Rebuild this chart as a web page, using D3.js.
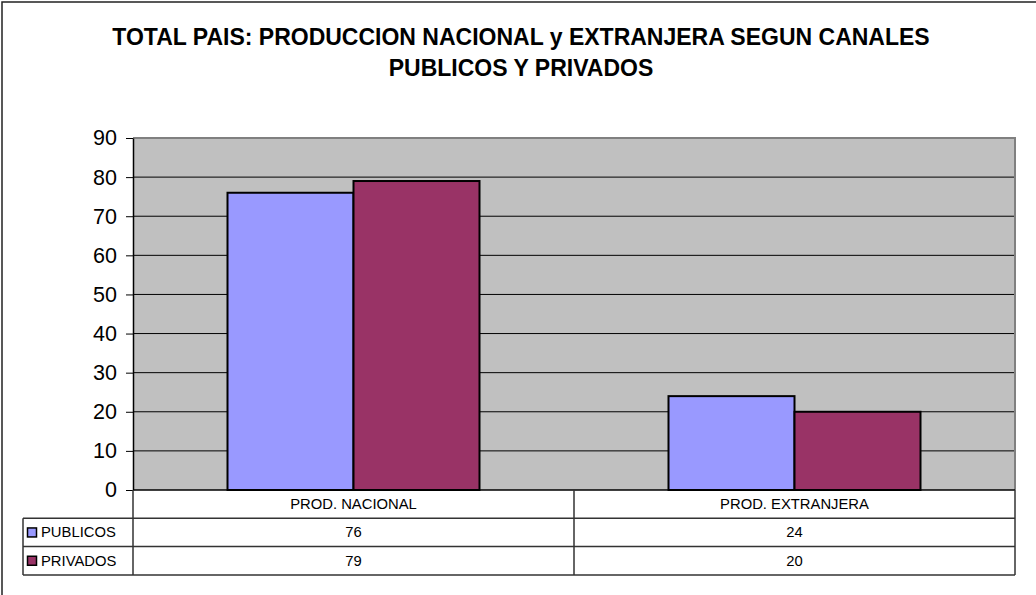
<!DOCTYPE html>
<html>
<head>
<meta charset="utf-8">
<script src="https://cdn.jsdelivr.net/npm/d3@7"></script>
<style>
  body { margin: 0; background: #fff; }
  svg { display: block; font-family: Arial, "Liberation Sans", sans-serif; }
</style>
</head>
<body>
<svg id="chart" width="1036" height="595"></svg>
<script>
const categories = ['PROD. NACIONAL', 'PROD. EXTRANJERA'];
const seriesNames = ['PUBLICOS', 'PRIVADOS'];
const publicos = [76, 24];
const privados = [79, 20];
const yTicks = [0, 10, 20, 30, 40, 50, 60, 70, 80, 90];
const colors = ['#9999FF', '#993366'];

const svg = d3.select('#chart');
const plot = { left: 133, right: 1015, top: 138, bottom: 490 };
const rowH = 28.3;

// outer frame (right/bottom edges fall outside the picture)
svg.append('rect')
  .attr('x', 2).attr('y', 2).attr('width', 1060).attr('height', 620)
  .attr('fill', 'none').attr('stroke', '#222').attr('stroke-width', 1.5);

// title
const title = svg.append('text')
  .attr('text-anchor', 'middle')
  .attr('font-weight', 'bold')
  .attr('font-size', 23)
  .attr('fill', '#000');
title.append('tspan').attr('x', 521).attr('y', 45)
  .text('TOTAL PAIS: PRODUCCION NACIONAL y EXTRANJERA SEGUN CANALES');
title.append('tspan').attr('x', 521).attr('y', 76)
  .text('PUBLICOS Y PRIVADOS');

const x0 = d3.scaleBand().domain(categories).range([plot.left, plot.right]);
const bw = x0.bandwidth() / 3.5;
const x1 = d3.scaleBand().domain(seriesNames).range([0.75 * bw, x0.bandwidth() - 0.75 * bw]);
const y = d3.scaleLinear().domain([0, 90]).range([plot.bottom, plot.top]);

// plot background
svg.append('rect')
  .attr('x', plot.left).attr('y', plot.top)
  .attr('width', plot.right - plot.left).attr('height', plot.bottom - plot.top)
  .attr('fill', '#C0C0C0');

// gridlines
svg.append('g').selectAll('line')
  .data(yTicks.filter(d => d > 0 && d < 90))
  .join('line')
  .attr('x1', plot.left).attr('x2', plot.right)
  .attr('y1', d => y(d)).attr('y2', d => y(d))
  .attr('stroke', '#000').attr('stroke-width', 1);

// top and right plot border
svg.append('path')
  .attr('d', `M${plot.left},${plot.top}H${plot.right}V${plot.bottom}`)
  .attr('fill', 'none').attr('stroke', '#808080').attr('stroke-width', 2);

// bars
const data = categories.map((c, i) => ({ cat: c, values: [publicos[i], privados[i]] }));
svg.append('g').selectAll('g')
  .data(data)
  .join('g')
  .attr('transform', d => `translate(${x0(d.cat)},0)`)
  .selectAll('rect')
  .data(d => d.values.map((v, j) => ({ name: seriesNames[j], value: v, color: colors[j] })))
  .join('rect')
  .attr('x', d => x1(d.name))
  .attr('width', x1.bandwidth())
  .attr('y', d => y(d.value))
  .attr('height', d => y(0) - y(d.value))
  .attr('fill', d => d.color)
  .attr('stroke', '#000').attr('stroke-width', 2);

// y axis
const yAxis = svg.append('g')
  .attr('transform', `translate(${plot.left},0)`)
  .call(d3.axisLeft(y).tickValues(yTicks).tickSize(7).tickPadding(9).tickSizeOuter(0));
yAxis.select('.domain').attr('stroke', '#000').attr('stroke-width', 1.5);
yAxis.selectAll('.tick line').attr('stroke', '#000');
yAxis.selectAll('.tick text')
  .attr('font-size', 21.5).attr('fill', '#000')
  .attr('font-family', 'Arial, "Liberation Sans", sans-serif');

// data table
const table = svg.append('g');
const tLeft = 23;
const rows = [plot.bottom, plot.bottom + rowH, plot.bottom + 2 * rowH, plot.bottom + 3 * rowH];
const lineColor = '#333';

// horizontal lines
table.append('line')
  .attr('x1', plot.left).attr('x2', plot.right)
  .attr('y1', rows[0]).attr('y2', rows[0])
  .attr('stroke', '#000').attr('stroke-width', 1.5);
rows.slice(1).forEach(r => {
  table.append('line')
    .attr('x1', tLeft).attr('x2', plot.right)
    .attr('y1', r).attr('y2', r)
    .attr('stroke', lineColor).attr('stroke-width', 1.5);
});
// vertical lines
[plot.left, x0(categories[1]), plot.right].forEach(vx => {
  table.append('line')
    .attr('x1', vx).attr('x2', vx)
    .attr('y1', rows[0]).attr('y2', rows[3])
    .attr('stroke', lineColor).attr('stroke-width', 1.5);
});
table.append('line')
  .attr('x1', tLeft).attr('x2', tLeft)
  .attr('y1', rows[1]).attr('y2', rows[3])
  .attr('stroke', lineColor).attr('stroke-width', 1.5);

// header
table.selectAll('text.cat')
  .data(categories)
  .join('text')
  .attr('class', 'cat')
  .attr('x', d => x0(d) + x0.bandwidth() / 2)
  .attr('y', rows[0] + rowH / 2 + 5)
  .attr('text-anchor', 'middle')
  .attr('font-size', 14.8)
  .text(d => d);

// rows
const seriesValues = [publicos, privados];
seriesNames.forEach((name, j) => {
  const cy = rows[j + 1] + rowH / 2;
  table.append('rect')
    .attr('x', 27.5).attr('y', cy - 4.5)
    .attr('width', 9).attr('height', 9)
    .attr('fill', colors[j]).attr('stroke', '#000').attr('stroke-width', 1.5);
  table.append('text')
    .attr('x', 41).attr('y', cy + 5)
    .attr('font-size', 14.8)
    .text(name);
  table.selectAll(null)
    .data(categories)
    .join('text')
    .attr('x', d => x0(d) + x0.bandwidth() / 2)
    .attr('y', cy + 5)
    .attr('text-anchor', 'middle')
    .attr('font-size', 14.8)
    .text((d, i) => seriesValues[j][i]);
});
</script>
</body>
</html>
